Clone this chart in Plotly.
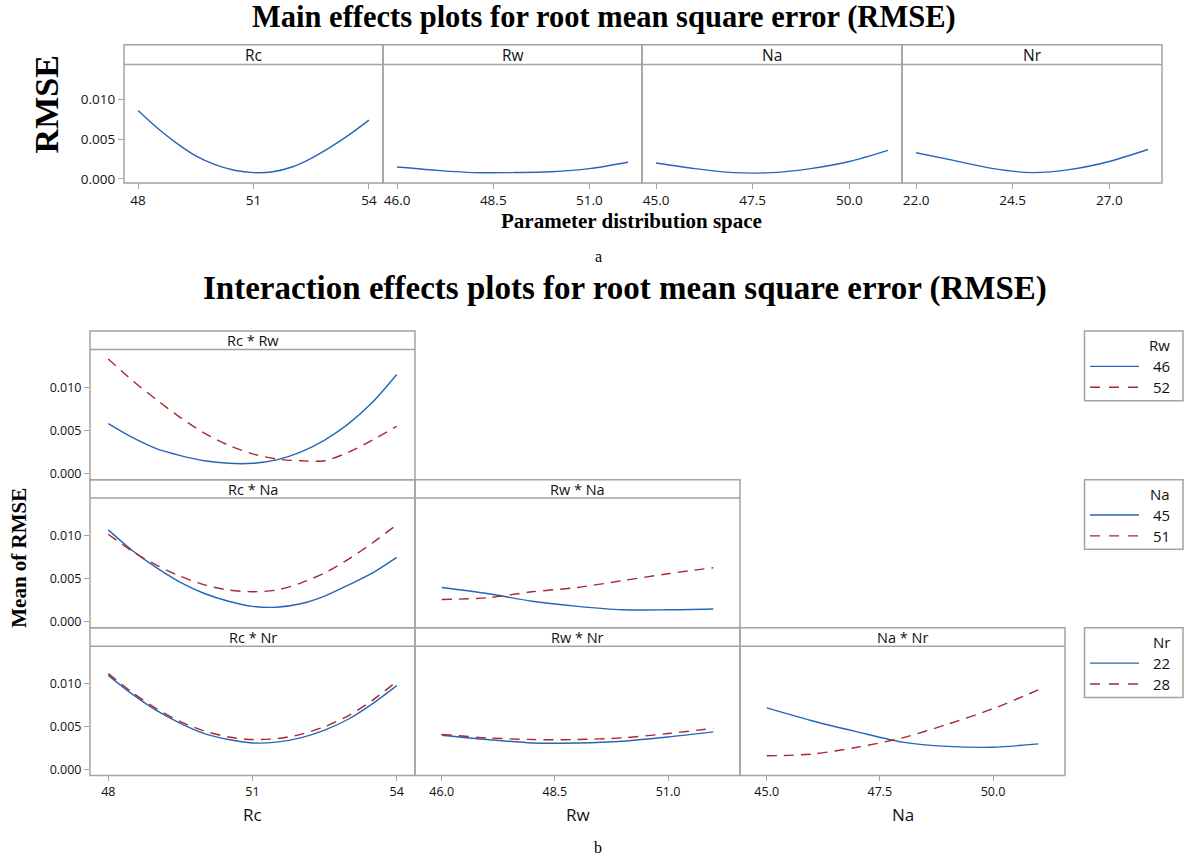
import plotly.graph_objects as go

W, H = 1184, 865


def px(x):
    return x / W


def py(y):
    return 1 - y / H


BLUE = "#2566b8"
RED = "#a8282c"
FRAME = "#a3a3a3"
TXT = "#111111"
SANS = "Open Sans"
SERIF = "Liberation Serif"

# ---------------- data: main effects (panel a) ----------------
main_params = ["Rc", "Rw", "Na", "Nr"]
rc_x = [48.0, 48.5, 49.0, 49.5, 50.0, 50.5, 51.0, 51.5, 52.0, 52.5, 53.0, 53.5, 54.0]
rw_x = [46, 47, 48, 49, 50, 51, 52]
na_x = [45, 46, 47, 48, 49, 50, 51]
nr_x = [22, 23, 24, 25, 26, 27, 28]

main_rc = [0.0086, 0.0064, 0.0045, 0.0029, 0.0018, 0.0011, 0.0008, 0.0009, 0.0015, 0.0026, 0.0040, 0.0056, 0.0074]
main_rw = [0.0015, 0.0011, 0.0008, 0.0008, 0.0009, 0.0013, 0.0021]
main_na = [0.0020, 0.0013, 0.0008, 0.0008, 0.0013, 0.0022, 0.0036]
main_nr = [0.0033, 0.0023, 0.0013, 0.0008, 0.0012, 0.0022, 0.0037]

main_x_ticks = [[48, 51, 54], [46.0, 48.5, 51.0], [45.0, 47.5, 50.0], [22.0, 24.5, 27.0]]
main_x_labels = [["48", "51", "54"], ["46.0", "48.5", "51.0"], ["45.0", "47.5", "50.0"], ["22.0", "24.5", "27.0"]]
y_ticks = [0.000, 0.005, 0.010]
y_labels = ["0.000", "0.005", "0.010"]

# ---------------- data: interaction effects (panel b) ----------------
# Rc * Rw  (Rw = 46 / 52)
rcrw_46 = [0.0058, 0.0042, 0.0029, 0.0021, 0.0015, 0.0012, 0.0012, 0.0016, 0.0025, 0.0039, 0.0058, 0.0083, 0.0115]
rcrw_52 = [0.0133, 0.0108, 0.0086, 0.0065, 0.0047, 0.0033, 0.0023, 0.0017, 0.0015, 0.0015, 0.0025, 0.0039, 0.0055]
# Rc * Na  (Na = 45 / 51)
rcna_45 = [0.0107, 0.0083, 0.0063, 0.0046, 0.0033, 0.0024, 0.0018, 0.0017, 0.0021, 0.0030, 0.0043, 0.0057, 0.0075]
rcna_51 = [0.0102, 0.0082, 0.0066, 0.0053, 0.0043, 0.0037, 0.0035, 0.0037, 0.0045, 0.0057, 0.0073, 0.0092, 0.0113]
# Rc * Nr  (Nr = 22 / 28)
rcnr_22 = [0.0110, 0.0088, 0.0069, 0.0054, 0.0042, 0.0035, 0.0031, 0.0032, 0.0037, 0.0046, 0.0059, 0.0077, 0.0098]
rcnr_28 = [0.0112, 0.0090, 0.0071, 0.0056, 0.0045, 0.0038, 0.0035, 0.0036, 0.0041, 0.0050, 0.0063, 0.0081, 0.0103]
# Rw * Na  (Na = 45 / 51)
rwna_45 = [0.0040, 0.0033, 0.0024, 0.0018, 0.0014, 0.0014, 0.0015]
rwna_51 = [0.0026, 0.0028, 0.0035, 0.0040, 0.0048, 0.0056, 0.0063]
# Rw * Nr  (Nr = 22 / 28)
rwnr_22 = [0.0040, 0.0035, 0.0031, 0.0031, 0.0033, 0.0038, 0.0044]
rwnr_28 = [0.0041, 0.0037, 0.0035, 0.0035, 0.0037, 0.0042, 0.0048]
# Na * Nr  (Nr = 22 / 28)
nanr_22 = [0.0072, 0.0057, 0.0044, 0.0032, 0.0027, 0.0026, 0.0030]
nanr_28 = [0.0016, 0.0018, 0.0026, 0.0037, 0.0053, 0.0071, 0.0093]

legend_titles = ["Rw", "Na", "Nr"]
legend_levels = [["46", "52"], ["45", "51"], ["22", "28"]]

inter_x_ticks = {"Rc": [48, 51, 54], "Rw": [46.0, 48.5, 51.0], "Na": [45.0, 47.5, 50.0]}
inter_x_labels = {"Rc": ["48", "51", "54"], "Rw": ["46.0", "48.5", "51.0"], "Na": ["45.0", "47.5", "50.0"]}
inter_x_range = {"Rc": [47.62, 54.38], "Rw": [45.41, 52.59], "Na": [44.41, 51.59]}

fig = go.Figure()
layout = dict(
    width=W, height=H,
    margin=dict(l=0, r=0, t=0, b=0),
    paper_bgcolor="white", plot_bgcolor="white",
    showlegend=False,
)
shapes = []
annotations = []


def add_axis(n, xdom, ydom, xrange, yrange, xticks, xlabels, show_x, show_y, tfs):
    xa = dict(domain=[px(xdom[0]), px(xdom[1])], range=xrange, anchor=f"y{n}",
              showgrid=False, zeroline=False, showline=False,
              tickfont=dict(family=SANS, size=tfs, color=TXT))
    ya = dict(domain=[py(ydom[1]), py(ydom[0])], range=yrange, anchor=f"x{n}",
              showgrid=False, zeroline=False, showline=False,
              tickfont=dict(family=SANS, size=tfs, color=TXT))
    if show_x:
        xa.update(tickvals=xticks, ticktext=xlabels, ticks="outside", ticklen=5,
                  tickcolor=FRAME, tickwidth=1.3)
    else:
        xa.update(showticklabels=False, ticks="")
    if show_y:
        ya.update(tickvals=y_ticks, ticktext=y_labels, ticks="outside", ticklen=5,
                  tickcolor=FRAME, tickwidth=1.3)
    else:
        ya.update(showticklabels=False, ticks="")
    key = "" if n == 1 else str(n)
    layout["xaxis" + key] = xa
    layout["yaxis" + key] = ya


def panel_frame(x0, x1, strip_top, strip_bot, plot_bot, label, fs):
    shapes.append(dict(type="rect", xref="paper", yref="paper",
                       x0=px(x0), x1=px(x1), y0=py(plot_bot), y1=py(strip_top),
                       line=dict(color=FRAME, width=1.5), fillcolor="rgba(0,0,0,0)", layer="above"))
    shapes.append(dict(type="line", xref="paper", yref="paper",
                       x0=px(x0), x1=px(x1), y0=py(strip_bot), y1=py(strip_bot),
                       line=dict(color=FRAME, width=1.5), layer="above"))
    annotations.append(dict(text=label, xref="paper", yref="paper",
                            x=px((x0 + x1) / 2), y=py((strip_top + strip_bot) / 2 + 0.5),
                            showarrow=False, xanchor="center", yanchor="middle",
                            font=dict(family=SANS, size=fs, color=TXT)))


def add_line(n, x, y, dashed):
    key = "" if n == 1 else str(n)
    fig.add_trace(go.Scatter(
        x=x, y=y, mode="lines", xaxis="x" + key, yaxis="y" + key,
        line=dict(color=RED if dashed else BLUE, width=1.4,
                  dash="10px,7px" if dashed else "solid", shape="spline", smoothing=0.8),
        hoverinfo="skip"))


# ---------------- panel a ----------------
top_cols = [(124, 383), (383, 642), (642, 902), (902, 1162)]
top_strip_top, top_strip_bot, top_plot_bot = 45, 65, 184
main_xs = [rc_x, rw_x, na_x, nr_x]
main_ys = [main_rc, main_rw, main_na, main_nr]
for i in range(4):
    n = i + 1
    lo = main_xs[i][0]
    hi = main_xs[i][-1]
    add_axis(n, top_cols[i], (top_strip_bot, top_plot_bot), [lo - 0.365, hi + 0.365],
             [-0.0005, 0.014375], main_x_ticks[i], main_x_labels[i], True, i == 0, 13.5)
    add_line(n, main_xs[i], main_ys[i], False)
    panel_frame(top_cols[i][0], top_cols[i][1], top_strip_top, top_strip_bot, top_plot_bot,
                main_params[i], 15.5)

# ---------------- panel b ----------------
bot_cols = [(90, 415), (415, 740), (740, 1065)]
rows = [(333, 351.5, 482.5), (482.5, 501, 631.5), (631.5, 650, 780)]
panels = [
    (0, 0, "Rc", "Rc * Rw", rc_x, rcrw_46, rcrw_52),
    (1, 0, "Rc", "Rc * Na", rc_x, rcna_45, rcna_51),
    (1, 1, "Rw", "Rw * Na", rw_x, rwna_45, rwna_51),
    (2, 0, "Rc", "Rc * Nr", rc_x, rcnr_22, rcnr_28),
    (2, 1, "Rw", "Rw * Nr", rw_x, rwnr_22, rwnr_28),
    (2, 2, "Na", "Na * Nr", na_x, nanr_22, nanr_28),
]
for k, (r, c, xv, label, xs, y_lo, y_hi) in enumerate(panels):
    n = 5 + k
    st, sb, pb = rows[r]
    add_axis(n, bot_cols[c], (sb, pb), inter_x_range[xv], [-0.0007, 0.0144],
             inter_x_ticks[xv], inter_x_labels[xv], r == 2, c == 0, 12.5)
    add_line(n, xs, y_lo, False)
    add_line(n, xs, y_hi, True)
    panel_frame(bot_cols[c][0], bot_cols[c][1], st, sb, pb, label, 14.5)

# axis titles under bottom row
for c, name in enumerate(["Rc", "Rw", "Na"]):
    annotations.append(dict(text=name, xref="paper", yref="paper",
                            x=px((bot_cols[c][0] + bot_cols[c][1]) / 2), y=py(819),
                            showarrow=False, xanchor="center", yanchor="middle",
                            font=dict(family=SANS, size=17, color=TXT)))

# legends (one per row)
for r in range(3):
    top = rows[r][0]
    shapes.append(dict(type="rect", xref="paper", yref="paper",
                       x0=px(1084.5), x1=px(1183), y0=py(top + 70), y1=py(top),
                       line=dict(color=FRAME, width=1.5), fillcolor="white"))
    annotations.append(dict(text=legend_titles[r], xref="paper", yref="paper",
                            x=px(1172), y=py(top + 14.5), showarrow=False,
                            xanchor="right", yanchor="middle",
                            font=dict(family=SANS, size=15, color=TXT)))
    for j in range(2):
        yy = top + 35.5 + 21 * j
        shapes.append(dict(type="line", xref="paper", yref="paper",
                           x0=px(1090), x1=px(1139), y0=py(yy), y1=py(yy),
                           line=dict(color=RED if j else BLUE, width=1.4,
                                     dash="10px,9px" if j else "solid")))
        annotations.append(dict(text=legend_levels[r][j], xref="paper", yref="paper",
                                x=px(1172), y=py(yy), showarrow=False,
                                xanchor="right", yanchor="middle",
                                font=dict(family=SANS, size=15, color=TXT)))

# titles and labels
def serif_text(text, x, y, size, bold=True, angle=0):
    annotations.append(dict(text=text, xref="paper", yref="paper", x=px(x), y=py(y),
                            showarrow=False, xanchor="center", yanchor="middle",
                            textangle=angle,
                            font=dict(family=SERIF, size=size, color="black",
                                      weight="bold" if bold else "normal")))


serif_text("Main effects plots for root mean square error (RMSE)", 604, 17, 30.5)
serif_text("RMSE", 46, 105, 34, angle=-90)
serif_text("Parameter distribution space", 631, 222, 21)
serif_text("a", 598, 258, 16, bold=False)
serif_text("Interaction effects plots for root mean square error (RMSE)", 625, 290, 33)
serif_text("Mean of RMSE", 19, 561, 21, angle=-90)
serif_text("b", 598, 852, 16, bold=False)

layout["shapes"] = shapes
layout["annotations"] = annotations
fig.update_layout(**layout)
fig.write_html("out.html")
